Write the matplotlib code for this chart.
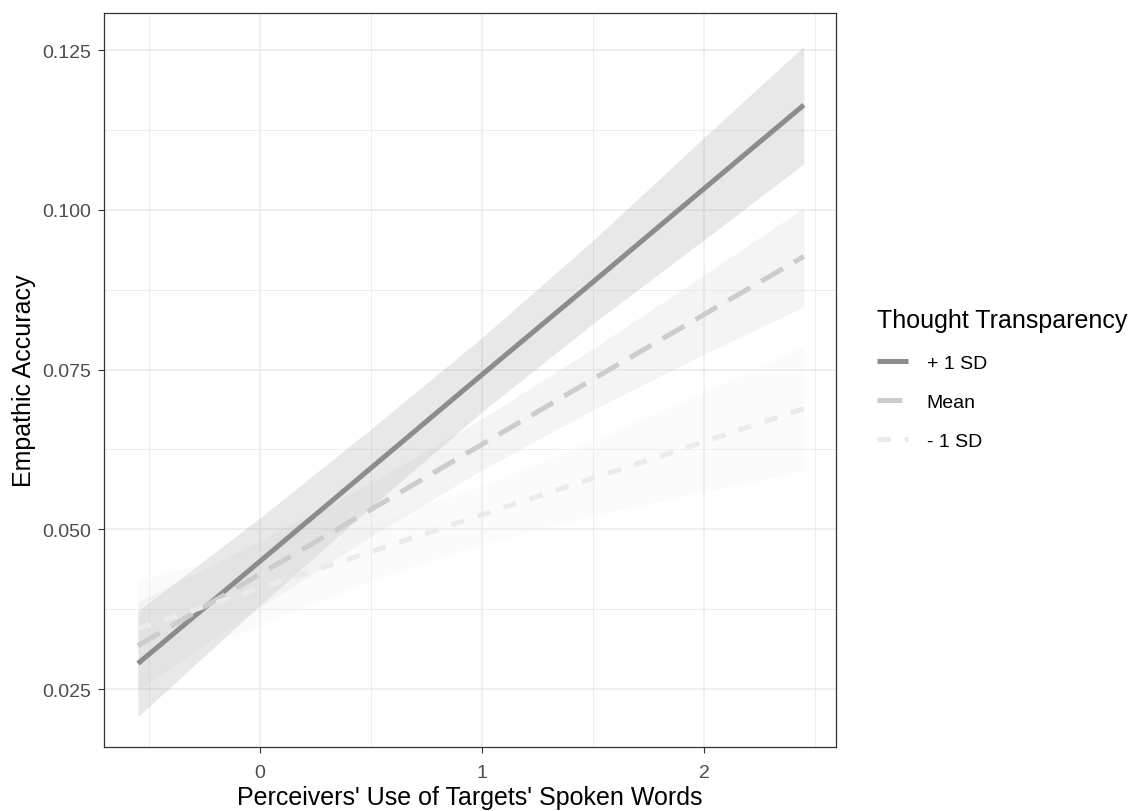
import matplotlib
matplotlib.use("Agg")
import matplotlib.pyplot as plt
import numpy as np

plt.rcParams['font.family'] = ['Liberation Sans', 'DejaVu Sans']

# Data
x_pts = [-0.55, 0.0, 0.5, 1.0, 1.5, 2.0, 2.45]

plus_fit = [0.0290, 0.0450, 0.0596, 0.0742, 0.0887, 0.1033, 0.1164]
plus_lo = [0.0207, 0.0381, 0.0535, 0.0684, 0.0822, 0.0953, 0.1072]
plus_hi = [0.0372, 0.0518, 0.0657, 0.0800, 0.0952, 0.1113, 0.1256]

mean_fit = [0.0318, 0.0430, 0.0531, 0.0633, 0.0735, 0.0836, 0.0927]
mean_lo = [0.0250, 0.0378, 0.0489, 0.0593, 0.0687, 0.0774, 0.0848]
mean_hi = [0.0386, 0.0482, 0.0573, 0.0673, 0.0783, 0.0898, 0.1003]

minus_fit = [0.0345, 0.0408, 0.0465, 0.0523, 0.0580, 0.0637, 0.0689]
minus_lo = [0.0268, 0.0350, 0.0420, 0.0478, 0.0522, 0.0559, 0.0592]
minus_hi = [0.0422, 0.0466, 0.0510, 0.0568, 0.0638, 0.0715, 0.0786]

labels = ['+ 1 SD', 'Mean', '- 1 SD']
colors = ['#8c8c8c', '#cccccc', '#ebebeb']
x_ticks = [0, 1, 2]
y_ticks = [0.025, 0.050, 0.075, 0.100, 0.125]
y_ticklabels = ['0.025', '0.050', '0.075', '0.100', '0.125']

fig = plt.figure(figsize=(11.33, 8.12), dpi=100)
ax = fig.add_axes([104/1133, 1-748/812, (836-104)/1133, (748-14)/812])

series = [(plus_fit, plus_lo, plus_hi), (mean_fit, mean_lo, mean_hi), (minus_fit, minus_lo, minus_hi)]
dashes = [None, (5.0, 2.6), (2.7, 2.8)]
lw = 3.6

for (fit, lo, hi), c in zip(series, colors):
    ax.fill_between(x_pts, lo, hi, color=c, alpha=0.2, linewidth=0, zorder=2)

handles = []
for (fit, lo, hi), c, d, lab in zip(series, colors, dashes, labels):
    if d is None:
        ln, = ax.plot(x_pts, fit, color=c, lw=lw, solid_capstyle='butt', zorder=3, label=lab)
    else:
        ln, = ax.plot(x_pts, fit, color=c, lw=lw, dashes=d, dash_capstyle='butt', zorder=3, label=lab)
    handles.append(ln)

ax.set_xlim(-0.703, 2.595)
ax.set_ylim(0.01594, 0.1308)
ax.set_xticks(x_ticks)
ax.set_xticklabels([str(t) for t in x_ticks])
ax.set_yticks(y_ticks)
ax.set_yticklabels(y_ticklabels)
ax.set_xticks([-0.5, 0.5, 1.5, 2.5], minor=True)
ax.set_yticks([0.0375, 0.0625, 0.0875, 0.1125], minor=True)
ax.grid(which='major', color='#ebebeb', lw=1.1, zorder=0)
ax.grid(which='minor', color='#ebebeb', lw=0.6, zorder=0)
ax.set_axisbelow(True)
ax.tick_params(which='minor', length=0)
ax.tick_params(which='major', length=4, width=0.8, color='#333333', labelcolor='#4d4d4d', labelsize=14)
ax.tick_params(axis='x', which='major', pad=8)
ax.tick_params(axis='y', which='major', pad=5)
for s in ax.spines.values():
    s.set_color('#333333')
    s.set_linewidth(0.9)

ax.set_xlabel("Perceivers' Use of Targets' Spoken Words", fontsize=18, color='black', labelpad=3)
ax.set_ylabel("Empathic Accuracy", fontsize=18, color='black', labelpad=5)

leg = fig.legend(handles=handles, labels=labels, loc='upper left',
                 bbox_to_anchor=(877/1133, 1-309/812), frameon=False,
                 title='Thought Transparency', title_fontsize=18, fontsize=14,
                 handlelength=1.6, handletextpad=0.95, labelspacing=1.1, borderaxespad=0,
                 borderpad=0)
leg._legend_box.align = 'left'
leg._legend_box.sep = 16

fig.savefig('out.png', dpi=100)
